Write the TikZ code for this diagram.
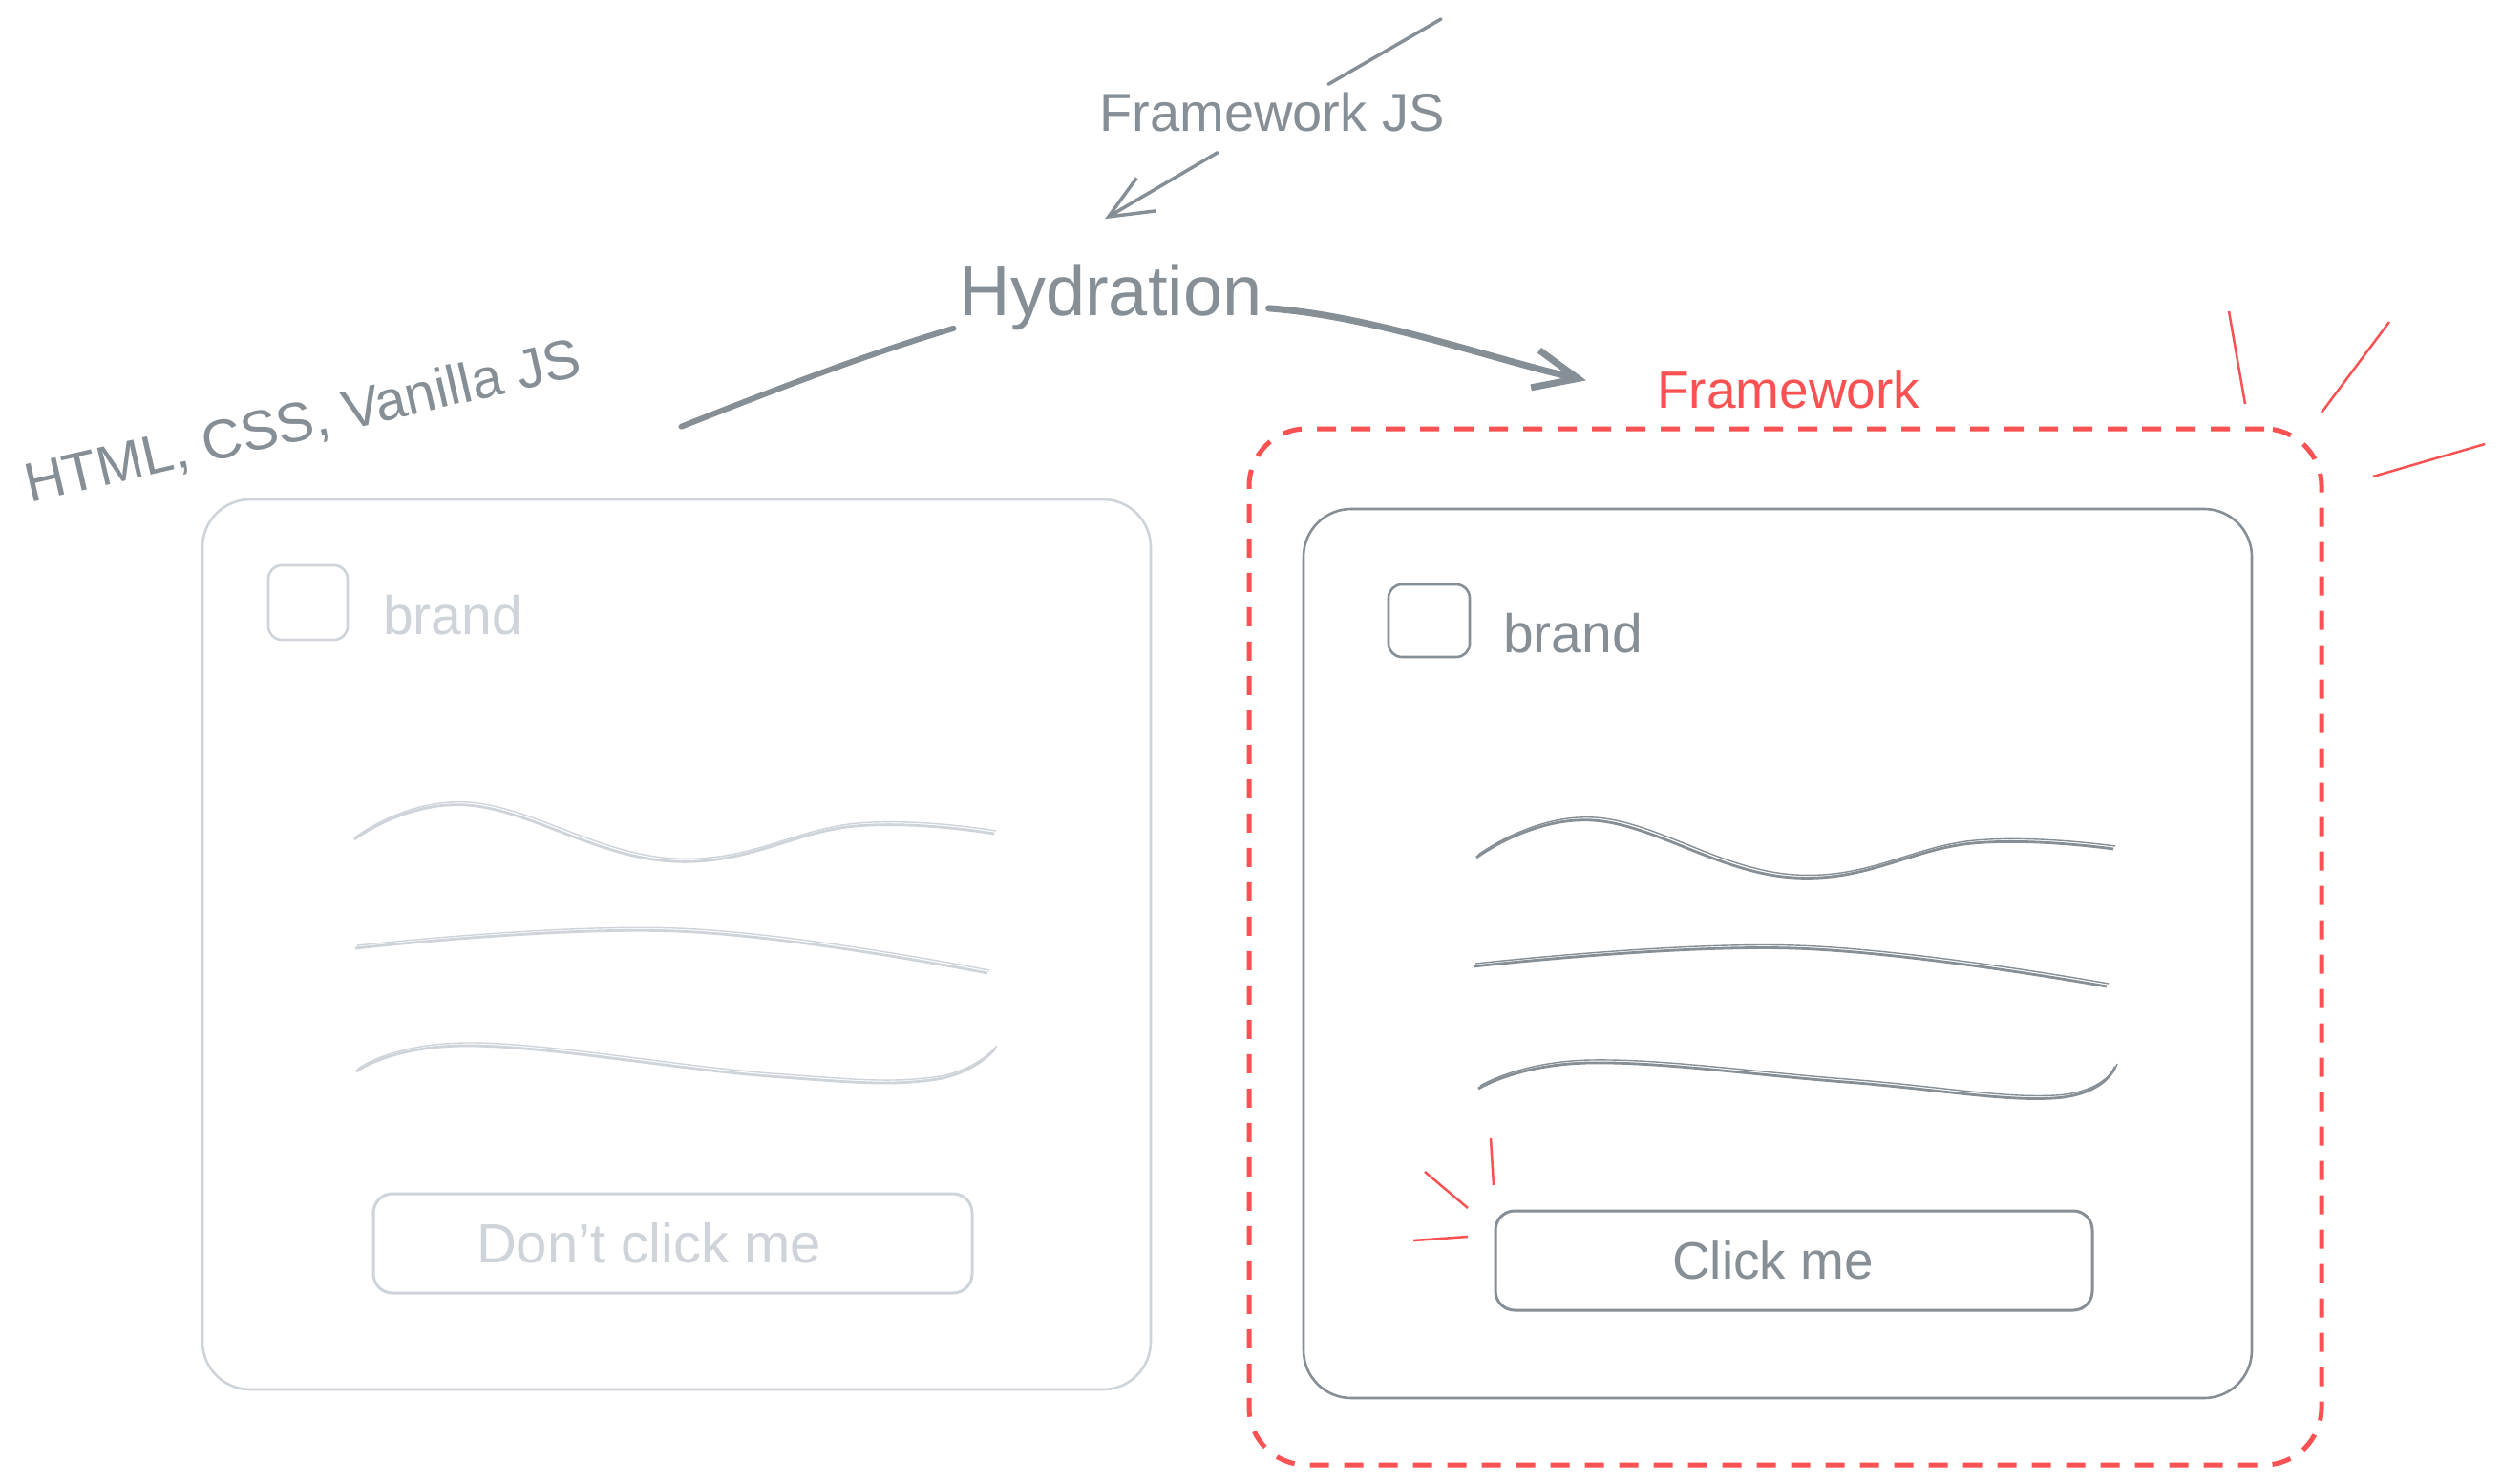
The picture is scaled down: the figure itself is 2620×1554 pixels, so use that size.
\documentclass[tikz,border=0pt]{standalone}
\usepackage{fontspec}
\setmainfont{Liberation Sans}
\usetikzlibrary{arrows.meta,calc}
\definecolor{ink}{HTML}{868E96}
\definecolor{faint}{HTML}{CED4DA}
\definecolor{accent}{HTML}{FA5252}
\newcommand\sketchwave[2]{%
  \draw[#1, line width=2.8pt] plot[smooth, tension=0.7] coordinates {#2};
  \draw[#1, line width=1.4pt, shift={(2,-3)}] plot[smooth, tension=0.7] coordinates {#2};}
\begin{document}
\begin{tikzpicture}[x=1pt, y=-1pt,
  label/.style={inner sep=0pt, text=ink},
  card/.style={draw, rounded corners=50pt, line width=2.6pt},
  frame/.style={draw=accent, rounded corners=60pt, line width=5pt, dash pattern=on 20pt off 16pt},
  checkbox/.style={draw, rounded corners=14pt, line width=2.6pt},
  button/.style={draw, rounded corners=20pt, line width=3pt},
  ray/.style={draw=accent, line width=2.5pt},
  link/.style={draw=ink, line width=6pt, line cap=round},
  thinarrow/.style={draw=ink, line width=3.5pt, line cap=round, -{Straight Barb[length=46pt, width=40pt]}},
  thickarrow/.style={draw=ink, line width=7pt, line cap=round, -{Straight Barb[length=46pt, width=40pt]}},
  thinline/.style={draw=ink, line width=3.5pt, line cap=round}
]
\fill[white] (0,0) rectangle (2620,1554);
\useasboundingbox (0,0) rectangle (2620,1554);

% titles
\node[label, font=\fontsize{74}{80}\selectfont, anchor=base] (hyd) at (1163,330) {Hydration};
\node[label, font=\fontsize{56}{60}\selectfont, anchor=base] (fjs) at (1332,138) {Framework JS};
\node[label, text=accent, font=\fontsize{55}{60}\selectfont, anchor=base west] (fw) at (1735,427) {Framework};
\node[label, font=\fontsize{58}{62}\selectfont, anchor=base west, rotate=13] (stack) at (31,527) {HTML, CSS, Vanilla JS};

% left card (static)
\node[card, draw=faint, minimum width=993pt, minimum height=932pt] (lcard) at (708.5,989) {};
\node[checkbox, draw=faint, minimum width=83pt, minimum height=78pt] (lbox) at (322.5,631) {};
\node[label, text=faint, font=\fontsize{57}{60}\selectfont, anchor=base west] (lbrand) at (401,664) {brand};
\node[button, draw=faint, text=faint, font=\fontsize{58}{60}\selectfont, minimum width=627pt, minimum height=104pt] (lbtn) at (704.5,1302) {Don't click me\kern50pt};
\sketchwave{faint}{(371,879) (489,843) (704,902) (896,865) (1041,873)}
\sketchwave{faint}{(372,993) (708,975) (1034,1019)}
\sketchwave{faint}{(373,1122) (494,1095) (806,1127) (975,1131) (1042,1098)}

% right card (framework)
\node[frame, minimum width=1123pt, minimum height=1085pt] (fwbox) at (1869.5,991.5) {};
\node[card, draw=ink, minimum width=993pt, minimum height=931pt] (rcard) at (1861.5,998.5) {};
\node[checkbox, draw=ink, minimum width=85pt, minimum height=76pt] (rbox) at (1496.5,650) {};
\node[label, font=\fontsize{57}{60}\selectfont, anchor=base west] (rbrand) at (1574,683) {brand};
\node[button, draw=ink, text=ink, font=\fontsize{55}{60}\selectfont, minimum width=625pt, minimum height=104pt] (rbtn) at (1878.5,1320) {Click me\kern44pt};
\sketchwave{ink}{(1546,898) (1668,859) (1878,919) (2066,883) (2213,889)}
\sketchwave{ink}{(1543,1012) (1878,993) (2206,1033)}
\sketchwave{ink}{(1548,1140) (1664,1113) (1932,1133) (2150,1150) (2215,1117)}

% accent rays
\draw[ray] (2334,326) -- (2351,423);
\draw[ray] (2502,337) -- (2431,432);
\draw[ray] (2602,465) -- (2485,499);
\draw[ray] (1561,1192) -- (1564,1241);
\draw[ray] (1492,1227) -- (1537,1265);
\draw[ray] (1480,1299) -- (1537,1295);

% connectors
\coordinate (fjsin) at (1509,20);
\draw[thinline] ($(fjs.north)+(59,-9)$) -- (fjsin);
\draw[thinarrow] ($(fjs.south)+(-57,21)$) -- ($(hyd.north)+(-6,-47)$);
\draw[link] ($(hyd.west)+(-6,33)$) .. controls ($(hyd.west)+(-100,61)$) and ($(lcard.north)+(91,-109)$) .. ($(lcard.north)+(5,-75)$);
\draw[thickarrow] ($(hyd.east)+(7,12)$) .. controls ($(hyd.east)+(117,20)$) and ($(fw.west)+(-172,-31)$) .. ($(fw.west)+(-74,-9)$);
\end{tikzpicture}
\end{document}
